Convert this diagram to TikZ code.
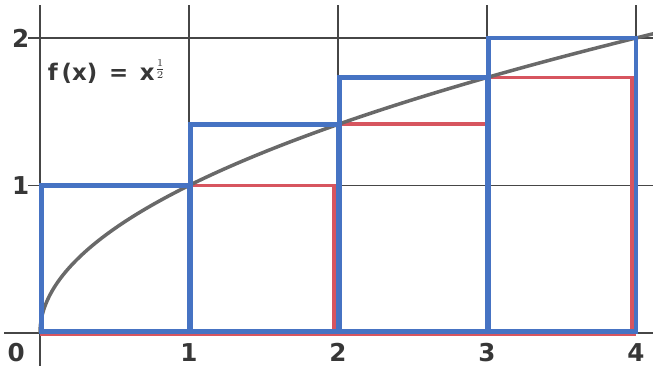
\documentclass[tikz,border=0pt]{standalone}
\usepackage{fontspec}
\setsansfont{DejaVu Sans}
\usetikzlibrary{calc}

\definecolor{upperblue}{RGB}{70,115,195}
\definecolor{lowerred}{RGB}{215,85,95}
\definecolor{curvegray}{RGB}{105,105,105}
\definecolor{gridgray}{RGB}{70,70,70}
\definecolor{labelgray}{RGB}{55,55,55}

\begin{document}
\begin{tikzpicture}[x=2.98cm,y=2.95cm,
  gridline/.style={gridgray,line width=0.8pt},
  upper/.style={upperblue,line width=2.8pt},
  lower/.style={lowerred,line width=2.2pt},
  fcurve/.style={curvegray,line width=2pt},
  ticklabel/.style={labelgray,font=\sffamily\bfseries\fontsize{14}{16}\selectfont,inner sep=0pt}]
\useasboundingbox (-0.2685,-0.2237) rectangle (4.114,2.2576);
% grid
\draw[gridline] (-0.24,0) -- (4.114,0);
\draw[gridline] (-0.08,1) -- (4.114,1);
\draw[gridline] (-0.08,2) -- (4.114,2);
\draw[gridline] (0,-0.2237) -- (0,2.224);
\foreach \i in {1,...,4}
  \draw[gridline] (\i,0) -- (\i,2.224);
% axis labels
\node[ticklabel] (lab0) at (-0.16,-0.13) {0};
\foreach \i in {1,...,4}
  \node[ticklabel] (labx\i) at (\i,-0.13) {\i};
\node[ticklabel] (laby1) at (-0.13,1) {1};
\node[ticklabel] (laby2) at (-0.13,2) {2};
% lower sum
\draw[lower] (0,-0.01) -- (4,-0.01);
\foreach \a/\b/\r in {1/2/1.975,2/3/3,3/4/3.975}
  \draw[lower] (\a,-0.01) rectangle (\r,{sqrt(\a)});
% the function
\draw[fcurve] plot[domain=0:2.03,samples=80,smooth] ({\x*\x},\x);
% upper sum
\foreach \a/\b in {0/1,1/2,2/3,3/4}
  \draw[upper] (\a+0.01,0.01) rectangle (\b,{sqrt(\b)});
\node[labelgray,font=\sffamily\bfseries\fontsize{13}{15}\selectfont] (fx) at (0.45,1.77) {f\,(x) \,=\, x$^{\frac{1}{2}}$};
\end{tikzpicture}
\end{document}
